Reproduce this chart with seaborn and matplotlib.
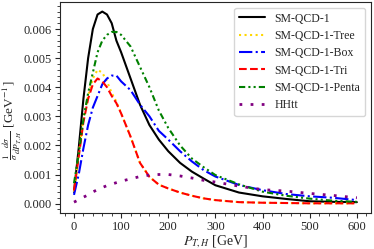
import numpy as np
import pandas as pd
import matplotlib
matplotlib.use('Agg')
import matplotlib.pyplot as plt
from matplotlib.ticker import AutoMinorLocator, FormatStrFormatter
import seaborn as sns

# transverse momentum grid [GeV]
pt = [0, 10, 20, 30, 40, 50, 60, 70, 80, 90, 100, 120, 140, 160, 180, 200,
      225, 250, 275, 300, 350, 400, 450, 500, 550, 600]

sm_qcd = [0.0004, 0.0019, 0.0036, 0.0050, 0.0060, 0.0065, 0.0066, 0.0065, 0.0062,
          0.0056, 0.0052, 0.0043, 0.0034, 0.0027, 0.0022, 0.0018, 0.0014, 0.0011,
          0.00086, 0.00063, 0.00038, 0.00025, 0.00016, 0.00008, 0.00006, 0.00005]
sm_tree = [0.0004, 0.0017, 0.0029, 0.0037, 0.0043, 0.0046, 0.0045, 0.0042, 0.0038,
           0.0035, 0.0031, 0.0023, 0.0014, 0.00092, 0.00065, 0.00052, 0.00038,
           0.00027, 0.00018, 0.00012, 0.00005, 0.00003, 0.00002, 0.00001, 0.00001,
           0.00001]
sm_box = [0.0003, 0.0010, 0.0019, 0.0027, 0.0033, 0.0037, 0.0041, 0.0043, 0.0044,
          0.0044, 0.0042, 0.0039, 0.0034, 0.0030, 0.0025, 0.0022, 0.0018, 0.00145,
          0.00115, 0.00093, 0.00064, 0.00046, 0.00033, 0.00025, 0.0002, 0.00012]
sm_tri = [0.00045, 0.0016, 0.0028, 0.0036, 0.0041, 0.0043, 0.0042, 0.0040, 0.0037,
          0.00345, 0.0031, 0.0023, 0.0014, 0.00092, 0.00065, 0.00052, 0.00038,
          0.00027, 0.00018, 0.00012, 0.00005, 0.00003, 0.00002, 0.00001, 0.00001,
          0.00001]
sm_penta = [0.0007, 0.0017, 0.0029, 0.0038, 0.0045, 0.0052, 0.0056, 0.0058, 0.0059,
            0.0059, 0.0058, 0.0054, 0.0047, 0.0040, 0.0032, 0.0026, 0.0020, 0.00155,
            0.00125, 0.00098, 0.00066, 0.00041, 0.00027, 0.00017, 0.0001, 0.00006]
hhtt = [0.00005, 0.00013, 0.00022, 0.0003, 0.0004, 0.00048, 0.00055, 0.00062,
        0.00067, 0.00072, 0.00077, 0.00085, 0.00093, 0.00098, 0.001, 0.001,
        0.00095, 0.00088, 0.0008, 0.00074, 0.0006, 0.00048, 0.00043, 0.00035,
        0.00028, 0.0002]

labels = ['SM-QCD-1', 'SM-QCD-1-Tree', 'SM-QCD-1-Box', 'SM-QCD-1-Tri',
          'SM-QCD-1-Penta', 'HHtt']
series = [sm_qcd, sm_tree, sm_box, sm_tri, sm_penta, hhtt]

sns.set_style('ticks')
plt.rcParams['font.family'] = ['Liberation Serif', 'DejaVu Serif']
plt.rcParams['mathtext.fontset'] = 'stix'

colors = ['black', 'gold', 'blue', 'red', 'green', 'purple']
dashes = ['-', ':', '-.', '--', (0, (3, 1.5, 1, 1.5, 1, 1.5)), (0, (1, 3))]
widths = [1.5, 1.5, 1.5, 1.5, 1.5, 2.0]

fig = plt.figure(figsize=(3.74, 2.49), dpi=100)
ax = fig.add_axes([0.160, 0.145, 0.832, 0.847])

for lab, vals, c, ls, lw in zip(labels, series, colors, dashes, widths):
    df = pd.DataFrame({'pt': pt, 'val': vals})
    sns.lineplot(data=df, x='pt', y='val', ax=ax, color=c, linestyle=ls,
                 linewidth=lw, label=lab)

ax.set_xlabel(r'$P_{T,H}$ [GeV]', fontsize=10, labelpad=0)
ax.set_ylabel(r'$\frac{1}{\sigma}\frac{d\sigma}{dP_{T,H}}$ [GeV$^{-1}$]',
              fontsize=9.5)
ax.yaxis.set_label_coords(-0.112, 0.44)
ax.set_xticks([0, 100, 200, 300, 400, 500, 600])
ax.set_yticks([0.0, 0.001, 0.002, 0.003, 0.004, 0.005, 0.006])
ax.yaxis.set_major_formatter(FormatStrFormatter('%.3f'))
ax.xaxis.set_minor_locator(AutoMinorLocator(5))
ax.yaxis.set_minor_locator(AutoMinorLocator(5))
ax.tick_params(labelsize=9, length=3.5, width=0.8, pad=2.5)
ax.tick_params(which='minor', length=2, width=0.6)
ax.legend(loc='upper right', fontsize=8.5, handlelength=2.2,
          borderaxespad=0.5, labelspacing=0.45)

fig.savefig('out.png', dpi=100)
